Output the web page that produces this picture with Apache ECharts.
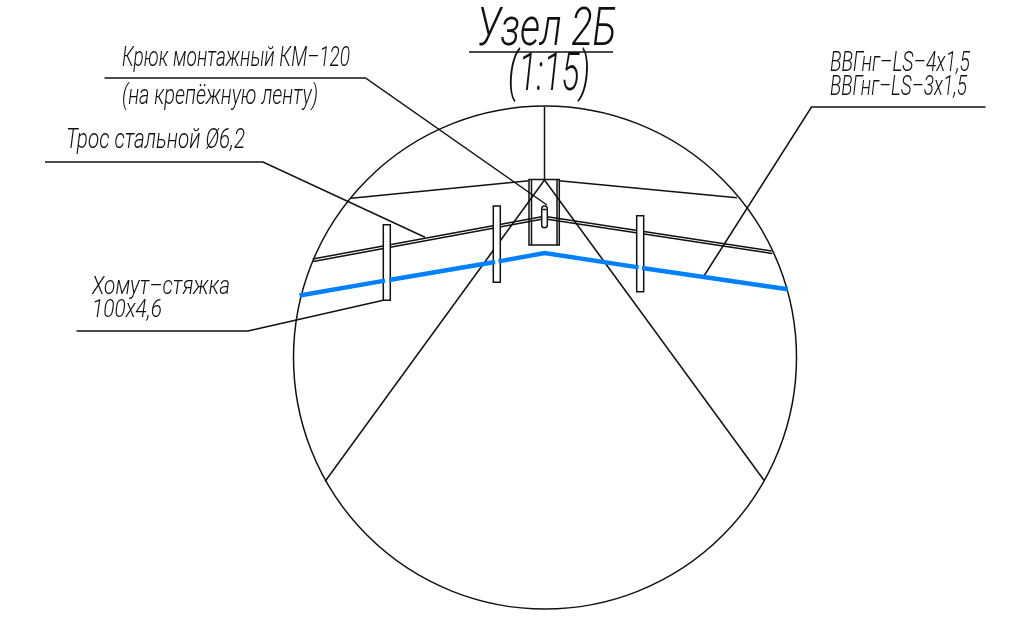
<!DOCTYPE html>
<html><head><meta charset="utf-8">
<style>html,body{margin:0;padding:0;background:#fff}#c{width:1027px;height:621px}</style>
<script src="https://cdn.jsdelivr.net/npm/echarts@6/dist/echarts.min.js"></script>
</head><body><div id="c"></div>
<script>
// Drawing geometry (drawing units = reference pixels)
const circleShape = [545, 357.5, 251.5];
const roofLeft = [[351,198.3],[529,180.7]];
const roofRight = [[559,180.7],[737,197.8]];
const axisLine = [[544.5,107],[544.5,180]];
const diagLeft = [[544.5,180],[325,481.5]];
const diagRight = [[544.5,180],[764.5,481]];
const wireLeftUpper = [[312.7,259],[541.7,216.7]];
const wireLeftLower = [[313.3,261.5],[541.7,219.2]];
const wireRightUpper = [[547.3,216.7],[771.7,251]];
const wireRightLower = [[547.3,219.2],[772.3,253.5]];
const hookInnerLeft = [[531.5,179.5],[531.5,245]];
const hookInnerRight = [[557,179.5],[557,245]];
const hookLoop = [[542.5,209.5],[546.5,209.5]];
const leaderHook = [[104.5,78],[365.5,78],[547,205]];
const leaderCable = [[45,162],[263,162],[425,237.3]];
const leaderTie = [[76.5,331],[248,331],[383.3,300.3]];
const leaderWire = [[703.3,277],[811.5,107],[985.5,107]];
const titleRule = [[469,52],[613,52]];
const blueA = [[299.5,295.5],[385,280.7]];
const blueB = [[389,280],[495,262]];
const blueC = [[498.5,261.3],[544.7,253],[638.5,267.3]];
const blueD = [[642,268],[787.7,289.3]];
// x0, y0, x1, y1
const ties = [[383.3,224.7,390.3,300.3],[493.3,206,500.3,282.3],[636.7,215.7,643.7,291.7]];
const hookBody = [529,179.5,559.3,245];
const hookOval = [541.7,206,547.3,227.7];
const labels = ["Узел 2Б","(1:15)","Крюк монтажный КМ–120","(на крепёжную ленту)","Трос стальной Ø6,2","Хомут–стяжка","100х4,6","ВВГнг–LS–4х1,5","ВВГнг–LS–3х1,5"];
// left, centre y, width, font size for each label
const labelBoxes = [[477,31,140,54],[508,76,82,54],[122,58.5,228,28],[122,97,196,28],[66,141,179,28],[92,287.5,138,26],[92,310.5,70,26],[830,64,140,27],[830,88,137,27]];

const blackLines = [roofLeft,roofRight,axisLine,diagLeft,diagRight,wireLeftUpper,wireLeftLower,wireRightUpper,wireRightLower,hookInnerLeft,hookInnerRight,hookLoop,leaderHook,leaderCable,leaderTie,leaderWire,titleRule];
const blueLines = [blueA,blueB,blueC,blueD];
const INK = '#111111', BLUE = '#0080ff';
const FONT = 'Roboto';
const ctx = document.createElement('canvas').getContext('2d');

const lineSeries = (d, color, width, z) => ({type:'line',data:d,symbol:'none',silent:true,animation:false,z,clip:false,
  lineStyle:{color,width,cap:'butt',join:'miter'}});
const rectItem = (fill, r) => (p, api) => {
  const a = api.coord([api.value(0),api.value(1)]), b = api.coord([api.value(2),api.value(3)]);
  return {type:'rect',shape:{x:a[0],y:a[1],width:b[0]-a[0],height:b[1]-a[1],r},style:{fill,stroke:INK,lineWidth:1.5}};
};
const option = {
  animation:false,
  backgroundColor:'#fff',
  grid:{left:0,right:0,top:0,bottom:0},
  xAxis:{type:'value',min:0,max:1027,show:false},
  yAxis:{type:'value',min:0,max:621,inverse:true,show:false},
  series:[
    {type:'custom',silent:true,z:1,clip:false,data:[circleShape],renderItem:(p,api)=>{
      const c = api.coord([api.value(0),api.value(1)]), r = api.size([api.value(2),0])[0];
      return {type:'circle',shape:{cx:c[0],cy:c[1],r},style:{fill:'none',stroke:INK,lineWidth:1.5}};
    }},
    ...blackLines.map(d=>lineSeries(d,INK,1.5,2)),
    {type:'custom',silent:true,z:3,clip:false,data:[hookBody],renderItem:rectItem('none',0)},
    {type:'custom',silent:true,z:3,clip:false,data:[hookOval],renderItem:rectItem('none',2.8)},
    {type:'custom',silent:true,z:4,clip:false,data:ties,renderItem:rectItem('#fff',0)},
    ...blueLines.map(d=>lineSeries(d,BLUE,4.4,5)),
    {type:'custom',silent:true,z:6,clip:false,data:labelBoxes.map((b,i)=>[b[0],b[1],i]),renderItem:(p,api)=>{
      const i = api.value(2), b = labelBoxes[i], c = api.coord([b[0],b[1]]);
      const font = `italic 300 ${b[3]}px ${FONT}`;
      ctx.font = font;
      const w = ctx.measureText(labels[i]).width;
      return {type:'text',x:c[0],y:c[1],scaleX:b[2]/w,scaleY:1,
        style:{text:labels[i],font,fill:INK,align:'left',verticalAlign:'middle'}};
    }}
  ]
};
echarts.init(document.getElementById('c'),null,{renderer:'canvas'}).setOption(option);
</script></body></html>
